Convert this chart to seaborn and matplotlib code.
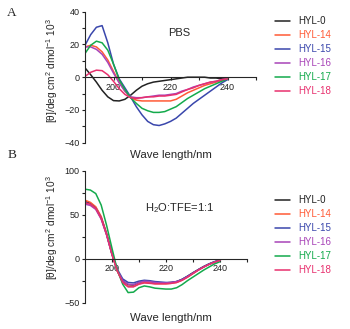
import numpy as np
import pandas as pd
import seaborn as sns
import matplotlib
matplotlib.use("Agg")
import matplotlib.pyplot as plt
from matplotlib.ticker import MultipleLocator, FixedLocator
from matplotlib.lines import Line2D

sns.set_style("ticks")
plt.rcParams["font.family"] = ["Liberation Sans", "DejaVu Sans"]
plt.rcParams["mathtext.fontset"] = "custom"
plt.rcParams["mathtext.rm"] = "Liberation Sans"
plt.rcParams["mathtext.it"] = "Liberation Sans:italic"

# Wavelength grid (nm)
wavelength = list(range(190, 241, 2))

samples = ["HYL-0", "HYL-14", "HYL-15", "HYL-16", "HYL-17", "HYL-18"]
colors = ["#222222", "#FF5A36", "#3A47AC", "#A844B8", "#14AA4C", "#E8306E"]

# Mean residue ellipticity in PBS (x10^3 deg cm2 dmol-1)
pbs_hyl0 = [5.7, 1.5, -3, -8, -12, -14.3, -14.5, -13.5, -11, -8, -5.5, -4, -3,
            -2.5, -2, -1.5, -1, -0.5, 0, 0, 0, 0, -0.5, -0.5, -1, -1]
pbs_hyl14 = [18.5, 19.5, 18.5, 15.5, 10.5, 3.5, -3, -8.5, -12.5, -14, -14.5, -14.5,
             -14.5, -14.5, -14.5, -14.5, -13.5, -11.5, -9.5, -8, -6.5, -5, -4, -3, -2, -1]
pbs_hyl15 = [19.5, 26, 30.5, 31.5, 21, 8, -1, -6.5, -12, -18, -23, -27, -29, -29.5,
             -28.5, -27, -25, -22, -19, -16, -13.5, -11, -8.5, -6, -3.5, -1.5]
pbs_hyl16 = [18.5, 18.5, 17, 14, 9, 2.5, -3.5, -8.5, -12, -12.5, -12.5, -12, -11.5,
             -11, -11, -10.5, -10, -8.5, -7.5, -6, -5, -4, -3, -2.5, -1.5, -1]
pbs_hyl17 = [14.5, 19.5, 22, 21, 16.5, 8, -1.5, -7.5, -12.5, -16, -19, -20.5, -21.5,
             -21.5, -21, -19.5, -18, -15.5, -13, -11, -9, -7, -5.5, -4, -2.5, -1]
pbs_hyl18 = [0.5, 3, 4.3, 4, 1.5, -2.5, -7, -10.5, -12.5, -13, -12.5, -12, -12, -11.5,
             -11.5, -11, -10.5, -9, -7.5, -6.5, -5, -4, -3, -2.5, -1.5, -1]

# Mean residue ellipticity in H2O:TFE = 1:1
tfe_hyl0 = [65, 63, 58, 47, 28, 5, -14, -25, -29.5, -30, -27, -25.5, -26, -27, -27.5,
            -27.5, -27, -26, -23.5, -20, -16, -12.5, -9, -6, -3.5, -1.5]
tfe_hyl14 = [66.5, 64, 59, 48, 29, 6, -14, -27, -31.5, -31.5, -28.5, -27, -27.5, -28.5,
             -28.5, -28.5, -28, -27, -24.5, -21, -17, -13, -9.5, -6.5, -4, -2]
tfe_hyl15 = [64, 62, 57, 46, 28, 6, -12, -23, -27, -27.5, -25.5, -24.5, -25, -26, -26.5,
             -27, -27, -26, -23.5, -20, -16.5, -12.5, -9, -6, -3.5, -1.5]
tfe_hyl16 = [62, 60.5, 56, 45, 27, 5, -13, -25, -29, -29.5, -27, -25.5, -26, -27, -27.5,
             -27.5, -27, -26, -24, -20.5, -16.5, -13, -9.5, -6.5, -4, -2]
tfe_hyl17 = [79, 78, 74, 61, 38, 12, -13, -29, -38.5, -38, -33, -31, -32, -33.5, -34,
             -34.5, -34.5, -33, -29.5, -25, -21, -17, -13, -9.5, -6, -3.5]
tfe_hyl18 = [63.5, 62, 57, 46, 27.5, 5, -14, -27, -32, -32, -29, -27.5, -28, -28.5,
             -28.5, -28.5, -28, -27, -24.5, -21, -17, -13, -9.5, -6.5, -4, -2]

pbs = [pbs_hyl0, pbs_hyl14, pbs_hyl15, pbs_hyl16, pbs_hyl17, pbs_hyl18]
tfe = [tfe_hyl0, tfe_hyl14, tfe_hyl15, tfe_hyl16, tfe_hyl17, tfe_hyl18]


def long_form(series):
    rows = []
    for name, vals in zip(samples, series):
        for w, v in zip(wavelength, vals):
            rows.append({"wavelength": w, "theta": v, "sample": name})
    return pd.DataFrame(rows)


W, H = 350, 329
fig = plt.figure(figsize=(W / 100, H / 100), dpi=100)
palette = dict(zip(samples, colors))


def draw_panel(rect, df, ylim, ymajor, yminor, note, note_xy, legend_top):
    ax = fig.add_axes(rect)
    sns.lineplot(data=df, x="wavelength", y="theta", hue="sample",
                 palette=palette, linewidth=1.1, ax=ax, legend=False,
                 hue_order=samples)
    ax.set_xlim(190, 250)
    ax.set_ylim(*ylim)
    ax.spines["top"].set_visible(False)
    ax.spines["right"].set_visible(False)
    ax.spines["bottom"].set_position(("data", 0))
    for s in ("left", "bottom"):
        ax.spines[s].set_linewidth(0.8)
    ax.xaxis.set_major_locator(FixedLocator([200, 220, 240]))
    ax.xaxis.set_minor_locator(FixedLocator([210, 230, 250]))
    ax.yaxis.set_major_locator(MultipleLocator(ymajor))
    ax.yaxis.set_minor_locator(MultipleLocator(yminor))
    ax.tick_params(which="both", direction="out", length=2.5, width=0.8,
                   labelsize=6.5, pad=1.5, colors="#222222")
    ax.set_xlabel("")
    ax.set_ylabel("")
    ax.text(note_xy[0] / W, 1 - note_xy[1] / H, note, transform=fig.transFigure,
            ha="center", va="center", fontsize=8)
    handles = [Line2D([], [], color=c, lw=1.1) for c in colors]
    fig.legend(handles, samples, loc="upper left",
               bbox_to_anchor=(275 / W, 1 - legend_top / H),
               frameon=False, fontsize=7, handlelength=1.55,
               handletextpad=0.8, labelspacing=0.42, borderpad=0,
               borderaxespad=0, labelcolor="linecolor")
    return ax


ylabel = r"[θ]/deg cm$^2$ dmol$^{-1}$ 10$^3$"

# Panel A: PBS
draw_panel([85 / W, 1 - 142.7 / H, 171 / W, 131 / H], long_form(pbs),
           (-40, 40), 20, 10, "PBS", (179, 33), 16)
fig.text(52 / W, 1 - 71 / H, ylabel, rotation=90, ha="center", va="center",
         fontsize=7.3)
fig.text(171 / W, 1 - 155 / H, "Wave length/nm", ha="center", va="center",
         fontsize=8.2)
fig.text(12 / W, 1 - 13 / H, "A", ha="center", va="center", fontsize=9.5,
         family="Liberation Serif")

# Panel B: H2O:TFE
draw_panel([85 / W, 1 - 302.7 / H, 161.7 / W, 132 / H], long_form(tfe),
           (-50, 100), 50, 25, r"H$_2$O:TFE=1:1", (180, 208), 195)
fig.text(52 / W, 1 - 228 / H, ylabel, rotation=90, ha="center", va="center",
         fontsize=7.3)
fig.text(171 / W, 1 - 318 / H, "Wave length/nm", ha="center", va="center",
         fontsize=8.2)
fig.text(12 / W, 1 - 155 / H, "B", ha="center", va="center", fontsize=9.5,
         family="Liberation Serif")

fig.savefig("out.png", dpi=100)
